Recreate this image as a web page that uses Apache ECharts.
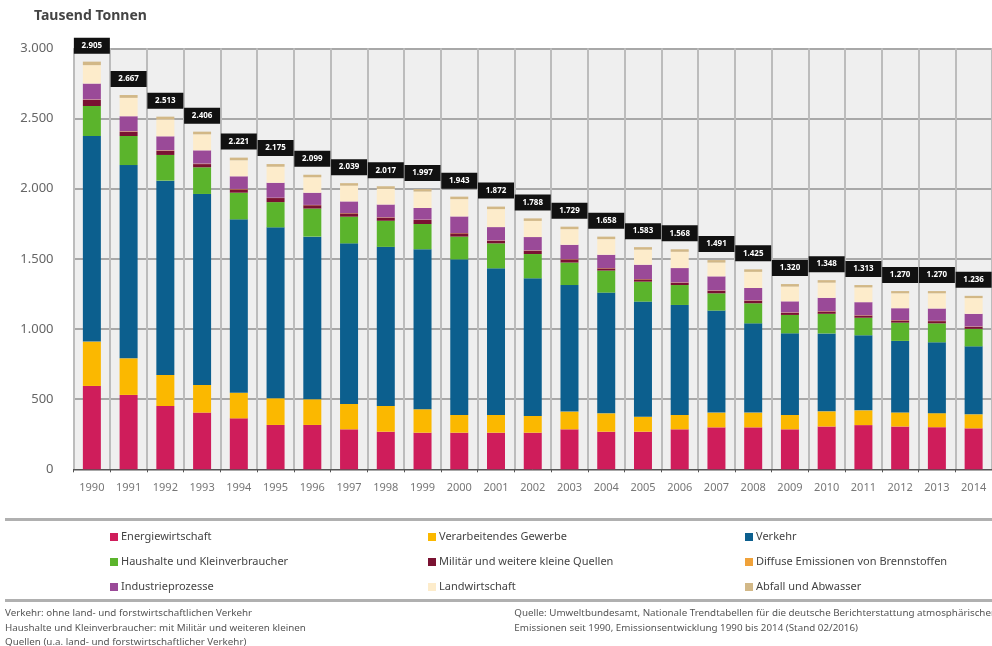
<!DOCTYPE html>
<html><head><meta charset="utf-8">
<script src="https://cdn.jsdelivr.net/npm/echarts@6/dist/echarts.min.js"></script>
<style>html,body{margin:0;padding:0;background:#fff}#c{width:992px;height:646px}</style>
</head><body><div id="c"></div>
<script>
const years = ['1990','1991','1992','1993','1994','1995','1996','1997','1998','1999','2000','2001','2002','2003','2004','2005','2006','2007','2008','2009','2010','2011','2012','2013','2014'];
const energiewirtschaft = [594,530,451,404,363,316,316,285,268,261,261,261,261,285,268,268,285,299,299,285,305,315,305,300,292];
const verarbeitendesGewerbe = [316,261,221,197,183,190,183,181,183,167,126,126,119,126,131,107,102,105,105,102,108,105,100,100,100];
const verkehr = [1465,1377,1385,1361,1235,1218,1159,1144,1134,1140,1109,1045,981,902,860,820,784,727,636,582,555,535,510,505,484];
const haushalte = [214,207,183,190,190,180,200,190,186,180,162,178,173,160,157,142,142,123,143,131,140,125,130,135,125];
const militaer = [43,31,30,23,24,29,24,24,23,29,24,19,24,23,16,17,17,19,19,16,17,16,16,16,15];
const diffuse = [3,3,3,3,3,2,2,2,2,2,2,2,2,2,2,2,2,2,2,2,2,2,2,2,2];
const industrieprozesse = [114,107,100,95,90,107,87,83,91,83,118,95,95,102,95,102,102,100,88,79,95,93,85,88,90];
const landwirtschaft = [131,131,120,114,114,114,110,112,112,117,123,128,115,111,111,107,116,98,115,105,108,105,106,108,112];
const abfall = [25,20,20,19,19,19,18,18,18,18,18,18,18,18,18,18,18,18,18,18,18,17,16,16,16];
const yTicks = [0,500,1000,1500,2000,2500,3000];

const seriesDefs = [
  ['Energiewirtschaft', energiewirtschaft, '#cf1d5b'],
  ['Verarbeitendes Gewerbe', verarbeitendesGewerbe, '#fbb800'],
  ['Verkehr', verkehr, '#0c5f8e'],
  ['Haushalte und Kleinverbraucher', haushalte, '#5bb42c'],
  ['Militär und weitere kleine Quellen', militaer, '#7a1232'],
  ['Diffuse Emissionen von Brennstoffen', diffuse, '#f0a23a'],
  ['Industrieprozesse', industrieprozesse, '#9a4a98'],
  ['Landwirtschaft', landwirtschaft, '#fdeccb'],
  ['Abfall und Abwasser', abfall, '#d2b887']
];
const totals = years.map((_, i) => seriesDefs.reduce((s, d) => s + d[1][i], 0));
const fmt = v => String(v).replace(/\B(?=(\d{3})+(?!\d))/g, '.');

const font = 'Noto Sans';
const series = [{
  type: 'bar', xAxisIndex: 1, data: totals, barWidth: 14, z: 1, silent: true,
  itemStyle: { color: '#ffffff', borderColor: '#ffffff', borderWidth: 16 },
  legendHoverLink: false
}];
seriesDefs.forEach((d, k) => {
  const s = { name: d[0], type: 'bar', stack: 'total', data: d[1], barWidth: 18, z: 3,
    itemStyle: { color: d[2] } };
  if (k === seriesDefs.length - 1) {
    s.label = { show: true, position: 'top', distance: 8,
      formatter: p => fmt(totals[p.dataIndex]),
      backgroundColor: '#111', color: '#fff', fontSize: 8, fontWeight: 'bold', fontFamily: font,
      width: 26, align: 'center', padding: [3, 5], lineHeight: 10 };
  }
  series.push(s);
});

const legendBase = { orient: 'vertical', top: 531, padding: 0, itemWidth: 8, itemHeight: 8, itemGap: 13, icon: 'rect',
  textStyle: { fontSize: 11, color: '#444', fontFamily: font, lineHeight: 12, padding: [0, 0, 0, -2] }, selectedMode: false };
const names = seriesDefs.map(d => d[0]);

const chart = echarts.init(document.getElementById('c'));
chart.setOption({
  animation: false,
  textStyle: { fontFamily: font },
  title: { text: 'Tausend Tonnen', left: 34, top: 9, padding: 0, textStyle: { fontSize: 14, fontWeight: 'bold', color: '#444', fontFamily: font } },
  grid: { left: 73.5, right: -4.5, top: 48.3, bottom: 176.7, show: true, backgroundColor: '#efefef', borderWidth: 0, z: 0 },
  xAxis: [{
    type: 'category', data: years, z: 2,
    axisLine: { lineStyle: { color: '#555', width: 1 } },
    axisTick: { show: true, length: 3, lineStyle: { color: '#555' } },
    axisLabel: { fontSize: 11, color: '#777', margin: 13, fontFamily: font },
    splitLine: { show: true, lineStyle: { color: '#bcbcbc', width: 2 } }
  }, {
    type: 'category', data: years, show: false
  }],
  yAxis: {
    type: 'value', min: 0, max: 3000, interval: 500, z: 2,
    axisLabel: { fontSize: 13, color: '#666', margin: 20, fontFamily: font, formatter: v => fmt(v) },
    axisLine: { show: false }, axisTick: { show: false },
    splitLine: { lineStyle: { color: '#a8a8a8', width: 2 } }
  },
  legend: [
    Object.assign({}, legendBase, { left: 110, data: [names[0], names[3], names[6]] }),
    Object.assign({}, legendBase, { left: 428, data: [names[1], names[4], names[7]] }),
    Object.assign({}, legendBase, { left: 745, data: [names[2], names[5], names[8]] })
  ],
  graphic: [
    { type: 'rect', shape: { x: 5, y: 518, width: 987, height: 3 }, style: { fill: '#b0b0b0' } },
    { type: 'rect', shape: { x: 5, y: 599, width: 987, height: 3 }, style: { fill: '#b0b0b0' } },
    { type: 'text', left: 5, top: 606, style: { text: 'Verkehr: ohne land- und forstwirtschaftlichen Verkehr\nHaushalte und Kleinverbraucher: mit Militär und weiteren kleinen\nQuellen (u.a. land- und forstwirtschaftlicher Verkehr)', fontSize: 9.8, lineHeight: 14.5, fill: '#555', fontFamily: font } },
    { type: 'text', right: -3, top: 606, style: { text: 'Quelle: Umweltbundesamt, Nationale Trendtabellen für die deutsche Berichterstattung atmosphärischer\nEmissionen seit 1990, Emissionsentwicklung 1990 bis 2014 (Stand 02/2016)', fontSize: 9.8, lineHeight: 14.5, fill: '#555', align: 'right', fontFamily: font } }
  ],
  series: series
});
</script></body></html>
